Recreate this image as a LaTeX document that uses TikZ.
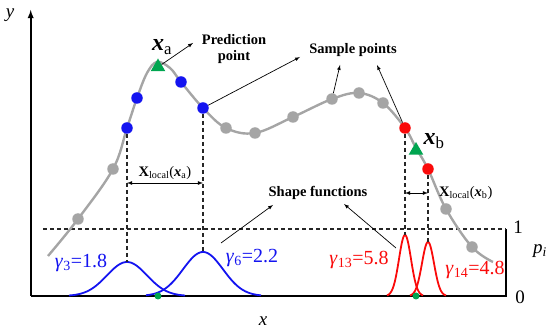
\documentclass[tikz,border=0pt]{standalone}
\usepackage{fontspec}
\setmainfont{Liberation Serif}
\usepackage{tikz}
\usetikzlibrary{positioning,calc,shapes.geometric}
\definecolor{CurveGray}{RGB}{165,165,165}
\definecolor{PtBlue}{RGB}{20,20,240}
\definecolor{PtRed}{RGB}{250,10,10}
\definecolor{PtGreen}{RGB}{0,165,80}
\tikzset{
  gdot/.style={circle,fill=CurveGray,inner sep=0pt,minimum size=11.5pt},
  bdot/.style={circle,fill=PtBlue,inner sep=0pt,minimum size=11.5pt},
  rdot/.style={circle,fill=PtRed,inner sep=0pt,minimum size=11.5pt},
  tri/.style={regular polygon,regular polygon sides=3,fill=PtGreen,inner sep=0pt,minimum size=17pt},
  zdot/.style={circle,fill=PtGreen,inner sep=0pt,minimum size=7pt},
  guide/.style={line width=1.1pt,black!85,dash pattern=on 4pt off 3pt},
  pointer/.style={-latex,line width=0.7pt},
  span/.style={latex-latex,line width=0.8pt},
  note/.style={font=\fontsize{14.5}{16}\selectfont\bfseries,align=center,inner sep=0pt},
  gam/.style={font=\fontsize{20}{22}\selectfont,inner sep=0pt},
  axlab/.style={font=\fontsize{19}{21}\selectfont,inner sep=0pt},
  xloc/.style={font=\fontsize{14.5}{16}\selectfont,inner sep=0pt},
  shapefn/.style={line width=1.8pt},
}

\begin{document}
\begin{tikzpicture}[x=1pt,y=-1pt]
  \useasboundingbox (0,0) rectangle (550,331);
  % frame
  \coordinate (O) at (30.7,296);
  \coordinate (ytip) at (30.7,10);
  \coordinate (xend) at (506,296);
  \coordinate (one) at (506,229);
  \coordinate (dl) at (43,229);
  \draw[line width=1.8pt,-latex] (O) -- (ytip);
  \draw[line width=1.8pt] (O) -- (xend) -- (one);
  \draw[guide] (dl) -- (one);
  % response curve
  \draw[CurveGray,line width=2.4pt] plot[smooth,tension=0.6] coordinates {
    (48,256) (78,219) (113,169) (127,128) (137,98) (147,73) (157,62) (170,68)
    (181,82) (203,108) (226,128) (255,133) (293,117) (332,99) (359,93)
    (383,103) (405,128) (416,148) (428,169) (446,209) (472,247) (493,262)};
  % peaks of the shape functions
  \coordinate (pk3) at (127,262);
  \coordinate (pk6) at (203,252);
  \coordinate (pk13) at (405,235);
  \coordinate (pk14) at (428,242);
  \foreach \c/\h/\s/\a/\b/\col in {127/34/20/69/185/PtBlue,203/44/20/146/261/PtBlue,
      405/61/6/387/423/PtRed,428/54/6/410/446/PtRed}
    \draw[shapefn,\col] plot[domain=\a:\b,samples=80]
      (\x,{296-\h*exp(-0.5*((\x-\c)/\s)*((\x-\c)/\s))});
  % sample points
  \foreach \n/\px/\py in {g1/78/219,g2/113/169,g3/226/128,g4/255/133,g5/293/117,
      g6/332/99,g7/359/93,g8/383/103,g9/446/209,g10/472/247}
    \node[gdot] (\n) at (\px,\py) {};
  \foreach \n/\px/\py in {b1/127/128,b2/137/98,b3/181/82,b4/203/108}
    \node[bdot] (\n) at (\px,\py) {};
  \foreach \n/\px/\py in {r1/405/128,r2/428/169}
    \node[rdot] (\n) at (\px,\py) {};
  \draw[guide] (b1) -- (pk3);
  \draw[guide] (b4) -- (pk6);
  \draw[guide] (r1) -- (pk13);
  \draw[guide] (r2) -- (pk14);
  % prediction points
  \node[tri] (ta) at (158,67) {};
  \node[tri] (tb) at (416,150.5) {};
  \node[zdot] (za) at (158,296) {};
  \node[zdot] (zb) at (416,296) {};
  \node[font=\fontsize{24}{26}\selectfont,inner sep=0pt] (xa) at (162,47)
    {\textbf{\textit{x}}\textsubscript{a}};
  \node[font=\fontsize{24}{26}\selectfont,inner sep=0pt] (xb) at (434,141)
    {\textbf{\textit{x}}\textsubscript{b}};
  % local neighbourhoods
  \coordinate (la) at (127,183);
  \coordinate (ra) at (203,183);
  \coordinate (lb) at (405,193);
  \coordinate (rb) at (428,193);
  \draw[span] (la) -- (ra);
  \draw[span] (lb) -- (rb);
  \node[xloc] (xla) at (165,173)
    {\textbf{X}\textsubscript{local}(\textbf{\textit{x}}\textsubscript{a})};
  \node[xloc,anchor=west] (xlb) at (439,193)
    {\textbf{X}\textsubscript{local}(\textbf{\textit{x}}\textsubscript{b})};
  % annotations
  \node[note] (pred) at (234,49) {Prediction\\point};
  \node[note] (samp) at (353,50) {Sample points};
  \node[note] (shp) at (318,193) {Shape functions};
  \coordinate (pp) at (193,43);
  \coordinate (sp1) at (300,57);
  \coordinate (sp2) at (340,65);
  \coordinate (sp3) at (377,65);
  \coordinate (sf1) at (221,243);
  \coordinate (sf1tip) at (273,205);
  \coordinate (sf2) at (396,248);
  \coordinate (sf2tip) at (344,204);
  \draw[pointer] (ta) -- (pp);
  \draw[pointer] (b4) -- (sp1);
  \draw[pointer] (g6) -- (sp2);
  \draw[pointer] (r1) -- (sp3);
  \draw[pointer] (sf1) -- (sf1tip);
  \draw[pointer] (sf2) -- (sf2tip);
  % widths
  \node[gam,PtBlue] (g3lab) at (81,263) {\textit{γ}\textsubscript{3}=1.8};
  \node[gam,PtBlue] (g6lab) at (252,258) {\textit{γ}\textsubscript{6}=2.2};
  \node[gam,PtRed] (g13lab) at (359,260) {\textit{γ}\textsubscript{13}=5.8};
  \node[gam,PtRed] (g14lab) at (475,270) {\textit{γ}\textsubscript{14}=4.8};
  % axis labels
  \node[axlab] (ylab) at (10,15) {\textit{y}};
  \node[axlab] (xlab) at (263,321) {\textit{x}};
  \node[axlab] (lab1) at (518,227) {1};
  \node[axlab] (lab0) at (520,297) {0};
  \node[axlab] (plab) at (540,251) {\textit{p}\textsubscript{\textit{i}}};
\end{tikzpicture}
\end{document}
